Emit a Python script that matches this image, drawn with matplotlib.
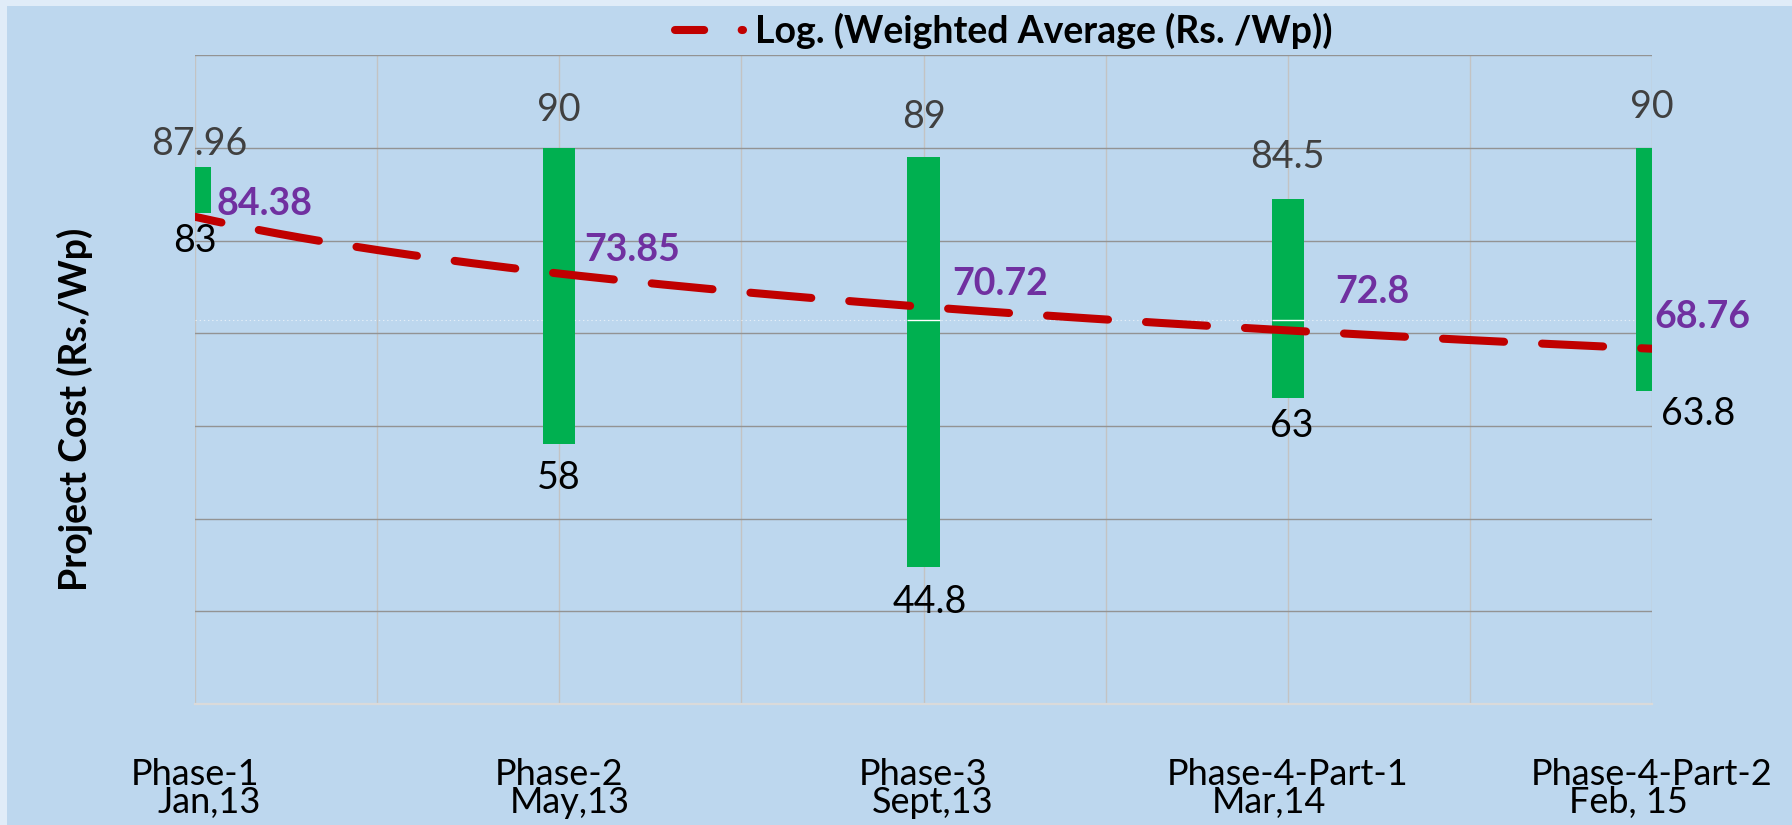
import numpy as np
import matplotlib
matplotlib.use('Agg')
import matplotlib.pyplot as plt
from matplotlib.lines import Line2D
from matplotlib.patches import Rectangle

# ---------------- data ----------------
phases = ['Phase-1', 'Phase-2', 'Phase-3', 'Phase-4-Part-1', 'Phase-4-Part-2']
dates = ['Jan,13', 'May,13', 'Sept,13', 'Mar,14', 'Feb, 15']
low = [83, 58, 44.8, 63, 63.8]
high = [87.96, 90, 89, 84.5, 90]
weighted_avg = [84.38, 73.85, 70.72, 72.8, 68.76]
mid_level = 71.45
legend_label = 'Log. (Weighted Average (Rs. /Wp))'
y_label = 'Project Cost (Rs./Wp)'

# ---------------- layout (pixel offsets) ----------------
PT = 0.72  # px -> pt at dpi 100
hi_dx = [4, 0, 0, 0, 0]
hi_dy = [12, 27, 29, 31, 30]
lo_dx = [0, 0, 6, 4, 46]
lo_dy = [-39, -45, -46, -39, -34]
avg_dx = [22, 25, 29, 47, 2]
avg_dy = [-15, 37, 32, 4, 17]
date_dx = [14, 11, 9, -19, -24]

plt.rcParams['font.family'] = ['Lato', 'DejaVu Sans']
plt.rcParams['lines.scale_dashes'] = False

BG = '#BDD7EE'
fig = plt.figure(figsize=(17.92, 8.25), dpi=100, facecolor='#E0ECF8')
fig.add_artist(Rectangle((7 / 1792, 0), 1, 1 - 6 / 825, transform=fig.transFigure,
                         facecolor=BG, edgecolor='none', zorder=0))

ax = fig.add_axes([0.1088, 0.1467, 0.8131, 0.7863])
ax.set_facecolor(BG)
x = np.arange(len(phases))
ax.set_xlim(0, 4)
ax.set_ylim(30, 100)
ax.set_yticks(np.arange(40, 101, 10))
ax.set_xticks(np.arange(0, 4.01, 0.5))
ax.tick_params(length=0, labelleft=False, labelbottom=False)
ax.set_axisbelow(True)
ax.grid(axis='y', color='#939393', lw=1.0)
ax.grid(axis='x', color='#C3C3C3', lw=1.0)
for s in ['top', 'left', 'right']:
    ax.spines[s].set_visible(False)
ax.spines['bottom'].set_color('#DADADA')
ax.spines['bottom'].set_linewidth(1.6)

# bars
bw = 0.088
lo = np.array(low)
hi = np.array(high)
ax.bar(x, hi - lo, bottom=lo, width=bw, color='#00B050', zorder=2)

# faint mid line and its white marks in bars
ax.axhline(mid_level, color='white', lw=0.8, ls=(0, (1, 2)), alpha=0.6, zorder=1.5)
for i in [2, 3]:
    ax.hlines(mid_level, x[i] - bw / 2, x[i] + bw / 2, color='white', lw=1.0, zorder=2.5)

# logarithmic trendline of weighted average
coef = np.polyfit(np.log(x + 1), weighted_avg, 1)
xs = np.linspace(0, 4, 300)
ys = coef[0] * np.log(xs + 1) + coef[1]
ax.plot(xs, ys, color='#C00000', lw=5.8, linestyle=(24.5, (44, 27.4)),
        dash_capstyle='round', solid_capstyle='round', zorder=3)

# data labels
for i in range(len(x)):
    ax.annotate(f'{high[i]:g}', xy=(x[i], high[i]), xytext=(hi_dx[i] * PT, hi_dy[i] * PT),
                textcoords='offset points', ha='center', va='baseline', fontsize=27,
                color='#404040', annotation_clip=False, zorder=5)
    ax.annotate(f'{low[i]:g}', xy=(x[i], low[i]), xytext=(lo_dx[i] * PT, lo_dy[i] * PT),
                textcoords='offset points', ha='center', va='baseline', fontsize=27,
                color='black', annotation_clip=False, zorder=5)
    ax.annotate(f'{weighted_avg[i]:g}', xy=(x[i], weighted_avg[i]),
                xytext=(avg_dx[i] * PT, avg_dy[i] * PT), textcoords='offset points',
                ha='left', va='baseline', fontsize=27, fontweight='bold',
                color='#7030A0', annotation_clip=False, zorder=5)
    # category labels
    ax.annotate(phases[i], xy=(x[i], 30), xytext=(0, -81 * PT), textcoords='offset points',
                ha='center', va='baseline', fontsize=26, color='black', annotation_clip=False)
    ax.annotate(dates[i], xy=(x[i], 30), xytext=(date_dx[i] * PT, -109 * PT),
                textcoords='offset points', ha='center', va='baseline', fontsize=26,
                color='black', annotation_clip=False)

# legend
proxy = Line2D([], [], color='#C00000', lw=5.8, linestyle=(0, (21, 27)),
               dash_capstyle='round', solid_capstyle='round')
fig.legend(handles=[proxy], labels=[legend_label], loc='center', bbox_to_anchor=(0.560, 0.962),
           frameon=False, prop={'weight': 'bold', 'size': 27}, handlelength=1.81,
           handletextpad=0.32, borderpad=0, borderaxespad=0)

fig.text(0.0419, 0.5036, y_label, rotation=90, ha='center', va='center',
         fontsize=27, fontweight='bold', color='black')

fig.savefig('out.png', dpi=100, facecolor=fig.get_facecolor())
